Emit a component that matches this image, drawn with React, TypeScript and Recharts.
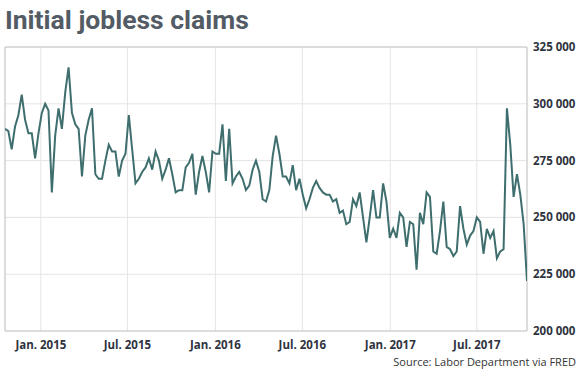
import React from 'react';
import { LineChart, Line, XAxis, YAxis, CartesianGrid, ReferenceArea } from 'recharts';

const firstWeek = '2014-10-18';

// Weekly initial jobless claims, thousands
const claimsK = [
  289, 288, 280, 290, 295, 304, 293, 287, 287, 276, 287, 296, 300, 297, 261, 286, 298, 289, 305, 316, 296, 291, 289, 268, 286, 293, 298, 269, 267, 267, 275, 282, 279,
  279, 268, 275, 278, 295, 280, 265, 267, 270, 272, 276, 271, 279, 275, 267, 271, 276, 269, 261, 262, 262, 272, 274, 278, 260, 270, 277, 270, 261, 279, 278, 278,
  291, 266, 289, 265, 268, 270, 267, 262, 264, 271, 275, 270, 258, 257, 262, 277, 286, 278, 268, 268, 265, 273, 262, 267, 260, 254, 258, 263, 266, 263,
  261, 260, 260, 257, 258, 252, 253, 247, 248, 258, 255, 261, 250, 239, 250, 262, 250, 250, 265, 257, 241, 245, 241, 252, 250, 237, 248, 247, 227, 252,
  247, 261, 259, 235, 234, 244, 257, 237, 236, 233, 235, 255, 245, 238, 242, 244, 250, 248, 234, 245, 241, 244, 232, 235, 236, 298, 282, 259, 269, 260, 247, 222,
];

const xTickDates = ['2015-01-01', '2015-07-01', '2016-01-01', '2016-07-01', '2017-01-01', '2017-07-01'];
const xTickLabels = ['Jan. 2015', 'Jul. 2015', 'Jan. 2016', 'Jul. 2016', 'Jan. 2017', 'Jul. 2017'];
const yTicks = [200000, 225000, 250000, 275000, 300000, 325000];

const DAY = 86400000;
const t0 = Date.parse(firstWeek);
const data = claimsK.map((v, i) => ({ t: t0 + i * 7 * DAY, claims: v * 1000 }));
const xTicks = xTickDates.map((d) => Date.parse(d));
const labelFor = (t: number) => xTickLabels[xTicks.indexOf(t)] ?? '';
const fmtY = (v: number) => String(v).replace(/\B(?=(\d{3})+(?!\d))/g, ' ');

const tickStyle = { fill: '#2f3340', fontSize: 11.5, fontWeight: 700, fontFamily: 'Open Sans' };

export default function App() {
  const domain: [number, number] = [data[0].t, data[data.length - 1].t];
  return (
    <div style={{ position: 'absolute', left: 0, top: 0, width: 580, height: 371, background: '#ffffff' }}>
      <LineChart width={580} height={371} data={data} margin={{ top: 47, right: 0, bottom: 10, left: 5 }}>
        <CartesianGrid stroke="#e4e4e4" strokeWidth={1} />
        <XAxis
          type="number"
          dataKey="t"
          domain={domain}
          ticks={xTicks}
          tickFormatter={labelFor}
          axisLine={false}
          tickLine={false}
          tickSize={0}
          tickMargin={10}
          height={30}
          tick={tickStyle}
          allowDataOverflow
        />
        <YAxis
          orientation="right"
          domain={[200000, 325000]}
          ticks={yTicks}
          tickFormatter={fmtY}
          axisLine={false}
          tickLine={false}
          tickSize={0}
          tickMargin={6}
          width={53}
          tick={{ ...tickStyle, textAnchor: 'start' }}
          allowDataOverflow
        />
        <ReferenceArea x1={domain[0]} x2={domain[1]} y1={200000} y2={325000} fill="none" stroke="#c8c8c8" strokeWidth={1} />
        <Line
          dataKey="claims"
          type="linear"
          stroke="#3f6e6e"
          strokeWidth={2}
          dot={false}
          isAnimationActive={false}
        />
      </LineChart>
      <svg width={580} height={371} style={{ position: 'absolute', left: 0, top: 0, pointerEvents: 'none' }}>
        <text x={5} y={29} fontFamily="Roboto" fontWeight={700} fontSize={26.5} fill="#535b65">
          Initial jobless claims
        </text>
        <text x={576} y={366} textAnchor="end" fontFamily="Open Sans" fontSize={11} fill="#333333">
          Source: Labor Department via FRED
        </text>
      </svg>
    </div>
  );
}
